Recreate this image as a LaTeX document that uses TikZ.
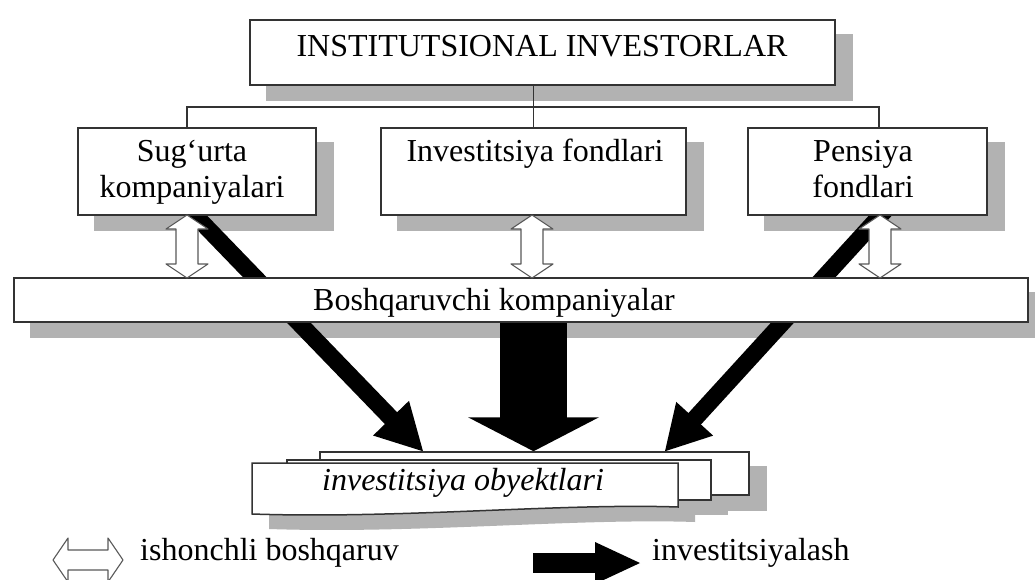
\documentclass[tikz,border=0pt]{standalone}
\usepackage{fontspec}
\setmainfont{Liberation Serif}
\usetikzlibrary{calc}
\pgfdeclarelayer{bglayer}
\pgfdeclarelayer{shadowlayer}
\pgfdeclarelayer{arrowlayer}
\pgfsetlayers{bglayer,shadowlayer,arrowlayer,main}
% #1 start, #2 tip, #3 shaft width, #4 head length, #5 half head width
\newcommand\fatarrow[5]{%
  \coordinate (fatip) at (#2);
  \coordinate (fabase) at ($(#2)!#4!(#1)$);
  \coordinate (fal) at ($(fabase)!#5!90:(fatip)$);
  \coordinate (far) at ($(fabase)!#5!-90:(fatip)$);
  \draw[line width=#3, black] (#1) -- ($(fabase)!2pt!(fatip)$);
  \fill[black] (fatip) -- (fal) -- (far) -- cycle;
}
% #1 centre, #2 rotation, #3 half length, #4 half head width, #5 half shaft width, #6 head length
\newcommand\hollowarrow[6]{%
  \draw[hollow, shift={(#1)}, rotate=#2]
    (0,-#3) -- (#4,-#3+#6) -- (#5,-#3+#6) -- (#5,#3-#6) -- (#4,#3-#6) -- (0,#3)
    -- (-#4,#3-#6) -- (-#5,#3-#6) -- (-#5,-#3+#6) -- (-#4,-#3+#6) -- cycle;
}
\begin{document}
\begin{tikzpicture}[x=1pt,y=-1pt,
  box/.style={draw=black!80, line width=1.5pt, fill=white, inner sep=0pt},
  shade/.style={fill=black!30},
  tree/.style={draw=black!80, line width=1.6pt},
  lbl/.style={anchor=base, inner sep=0pt, font=\fontsize{32}{36}\selectfont},
  hollow/.style={draw=black!65, fill=white, line width=1.1pt, line join=round},
]
\useasboundingbox (0,0) rectangle (1035,580);
\begin{pgfonlayer}{bglayer}
  \fill[white] (0,0) rectangle (1035,580);
\end{pgfonlayer}

% boxes
\node[box, minimum width=585pt, minimum height=65pt] (top) at (542.5,52.5) {};
\node[box, minimum width=238pt, minimum height=87pt] (sug) at (197,171.5) {};
\node[box, minimum width=305pt, minimum height=87pt] (inv) at (533.5,171.5) {};
\node[box, minimum width=239pt, minimum height=87pt] (pen) at (867.5,171.5) {};
\node[box, minimum width=1014pt, minimum height=44pt] (bosh) at (521,300) {};

% stack of investment objects
\node[box, minimum width=429pt, minimum height=43pt] (obj3) at (534.5,473.5) {};
\draw[box] (287,460) rectangle (711,500);
\draw[box] (252,463) -- (678,463) -- (678,507) .. controls (560,503) and (400,519) .. (252,514) -- cycle;
\coordinate (obj1) at (465,488);

% shadows
\begin{pgfonlayer}{shadowlayer}
  \foreach \n in {top,sug,inv,pen,bosh,obj3}
    \fill[shade] ($(\n.south west)+(17,15)$) rectangle ($(\n.north east)+(17,15)$);
  \fill[shade] (304,475) rectangle (728,515);
  \fill[shade] (269,478) -- (695,478) -- (695,522) .. controls (577,518) and (417,534) .. (269,529) -- cycle;
\end{pgfonlayer}

% tree connectors
\coordinate (busL) at (187,107);
\coordinate (busR) at (879,107);
\draw[tree] (top.south -| inv.north) -- (inv.north);
\draw[tree] (busL |- sug.north) -- (busL) -- (busR) -- (busR |- pen.north);

% black investment arrows
\begin{pgfonlayer}{arrowlayer}
  \coordinate (sA) at (185,205);
  \coordinate (tA) at (423,0 |- obj3.north);
  \fatarrow{sA}{tA}{17pt}{46pt}{25pt}
  \coordinate (sC) at (890,205);
  \coordinate (tC) at (665,0 |- obj3.north);
  \fatarrow{sC}{tC}{17pt}{44pt}{25pt}
  \coordinate (sB) at (533.5,310);
  \coordinate (tB) at (533.5,0 |- obj3.north);
  \fatarrow{sB}{tB}{67pt}{34pt}{65.5pt}
\end{pgfonlayer}

% hollow trust-management arrows
\hollowarrow{187,246.5}{0}{31.5}{21}{11}{14}
\hollowarrow{532,246.5}{0}{31.5}{21}{11}{14}
\hollowarrow{880,246.5}{0}{31.5}{21}{11}{14}

% texts
\node[lbl] (ttop) at (542,57) {INSTITUTSIONAL INVESTORLAR};
\node[lbl] (tsug1) at (192,162) {Sug‘urta};
\node[lbl] (tsug2) at (192,197) {kompaniyalari};
\node[lbl] (tinv) at (535,162) {Investitsiya fondlari};
\node[lbl] (tpen1) at (863,162) {Pensiya};
\node[lbl] (tpen2) at (863,197) {fondlari};
\node[lbl] (tbosh) at (494,310) {Boshqaruvchi kompaniyalar};
\node[lbl, font=\fontsize{32}{36}\selectfont\itshape] (tobj) at (463,490) {investitsiya obyektlari};

% legend
\hollowarrow{88,560}{90}{35}{22}{10}{15}
\node[lbl, anchor=base west] (leg1) at (140,560) {ishonchli boshqaruv};
\coordinate (lS) at (533,563);
\coordinate (lT) at (640,563);
\fatarrow{lS}{lT}{20pt}{45pt}{21pt}
\node[lbl, anchor=base west] (leg2) at (652,560) {investitsiyalash};
\end{tikzpicture}
\end{document}
